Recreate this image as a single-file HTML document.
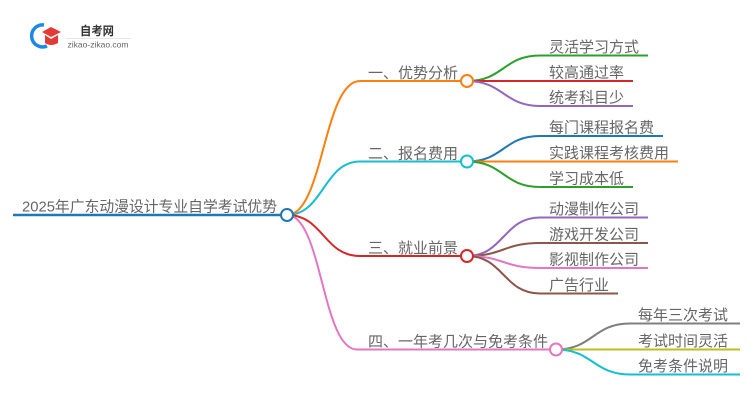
<!DOCTYPE html>
<html><head><meta charset="utf-8"><style>
html,body{margin:0;padding:0;background:#fff;width:750px;height:410px;overflow:hidden}
svg{display:block}
text{font-family:"Liberation Sans","Noto Sans CJK SC",sans-serif;fill:#666;font-size:15px}
</style></head><body>
<svg width="750" height="410" viewBox="0 0 750 410" xmlns="http://www.w3.org/2000/svg">
<!-- logo -->
<path d="M44 25 A11 11 0 1 0 47 46" fill="none" stroke="#1e88e5" stroke-width="3.5"/>
<polygon points="42,32 51,27 61,32 51,37" fill="#e53935"/>
<path d="M45 35 L45 43 Q51 47 58 43 L58 35 L51 39 Z" fill="#e53935"/>
<text x="80" y="35" style="font-size:12px;font-weight:bold;fill:#333" textLength="34" lengthAdjust="spacingAndGlyphs">自考网</text>
<line x1="66" y1="38.5" x2="131" y2="38.5" stroke="#e6e6e6" stroke-width="1"/>
<text x="67.5" y="47.5" style="font-size:8.5px;fill:#666" textLength="61" lengthAdjust="spacingAndGlyphs">zikao-zikao.com</text>

<g fill="none" stroke-width="2">
<!-- root -->
<line x1="13" y1="215" x2="281" y2="215" stroke="#1f77b4" stroke-width="2.5"/>
<!-- root to branches -->
<path d="M287 215 C323.5 215 323.5 81 360 81 L461 81" stroke="#ff7f0e"/>
<path d="M287 215 C323.5 215 323.5 161.5 360 161.5 L461 161.5" stroke="#17becf"/>
<path d="M287 215 C323.5 215 323.5 256 360 256 L461 256" stroke="#d62728"/>
<path d="M287 215 C322 215 322 349.5 357 349.5 L550 349.5" stroke="#e377c2"/>
<!-- branch 1 leaves -->
<path d="M467 81 C503.5 81 503.5 55.5 540 55.5 L648 55.5" stroke="#2ca02c"/>
<path d="M467 81 L633 81" stroke="#d62728"/>
<path d="M467 81 C503.5 81 503.5 106 540 106 L633 106" stroke="#9467bd"/>
<!-- branch 2 leaves -->
<path d="M467 161.5 C503.5 161.5 503.5 136 540 136 L663 136" stroke="#1f77b4"/>
<path d="M467 161.5 L678 161.5" stroke="#ff7f0e"/>
<path d="M467 161.5 C503.5 161.5 503.5 187 540 187 L633 187" stroke="#2ca02c"/>
<!-- branch 3 leaves -->
<path d="M467 256 C503.5 256 503.5 217.5 540 217.5 L648 217.5" stroke="#9467bd"/>
<path d="M467 256 C503.5 256 503.5 243 540 243 L648 243" stroke="#8c564b"/>
<path d="M467 256 C503.5 256 503.5 268 540 268 L648 268" stroke="#e377c2"/>
<path d="M467 256 C503.5 256 503.5 293.5 540 293.5 L618 293.5" stroke="#8c564b"/>
<!-- branch 4 leaves -->
<path d="M556 349.5 C593 349.5 593 323.5 630 323.5 L740 323.5" stroke="#7f7f7f"/>
<path d="M556 349.5 L740 349.5" stroke="#bcbd22"/>
<path d="M556 349.5 C593 349.5 593 374.5 630 374.5 L740 374.5" stroke="#17becf"/>
</g>
<!-- circles -->
<g fill="#fff" stroke-width="2">
<circle cx="287" cy="215" r="6" stroke="#1f77b4"/>
<circle cx="467" cy="81" r="6" stroke="#ff7f0e"/>
<circle cx="467" cy="161.5" r="6" stroke="#17becf"/>
<circle cx="467" cy="256" r="6" stroke="#d62728"/>
<circle cx="556" cy="349.5" r="6" stroke="#e377c2"/>
</g>
<!-- labels -->
<text x="22" y="211.5" textLength="255" lengthAdjust="spacingAndGlyphs">2025年广东动漫设计专业自学考试优势</text>
<text x="368" y="78">一、优势分析</text>
<text x="368" y="158.5">二、报名费用</text>
<text x="368" y="253">三、就业前景</text>
<text x="368" y="346.5">四、一年考几次与免考条件</text>

<text x="549" y="52">灵活学习方式</text>
<text x="549" y="77.5">较高通过率</text>
<text x="549" y="102.5">统考科目少</text>
<text x="549" y="132.5">每门课程报名费</text>
<text x="549" y="158">实践课程考核费用</text>
<text x="549" y="183.5">学习成本低</text>
<text x="549" y="214">动漫制作公司</text>
<text x="549" y="239.5">游戏开发公司</text>
<text x="549" y="264.5">影视制作公司</text>
<text x="549" y="290">广告行业</text>
<text x="638" y="320">每年三次考试</text>
<text x="638" y="346">考试时间灵活</text>
<text x="638" y="371">免考条件说明</text>
</svg>
</body></html>
